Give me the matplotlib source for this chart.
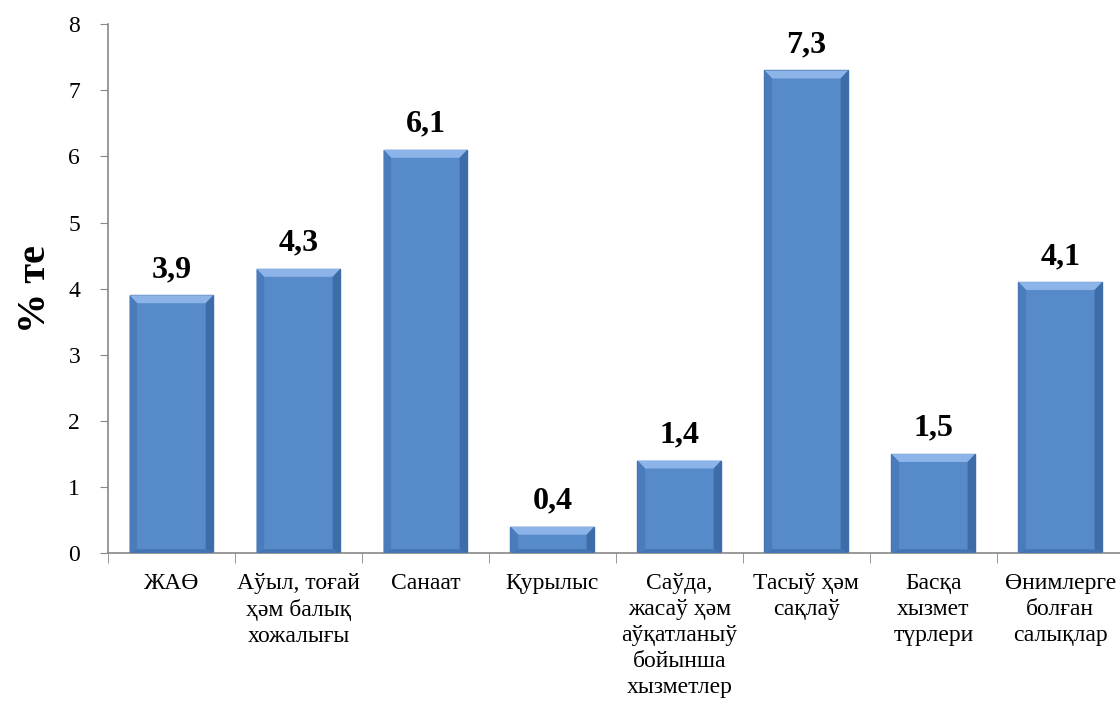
import numpy as np
import matplotlib.pyplot as plt
from matplotlib.patches import Polygon

categories = ['ЖАӨ', 'Аўыл, тоғай\nҳəм балық\nхожалығы', 'Санаат', 'Қурылыс',
              'Саўда,\nжасаў ҳəм\nаўқатланыў\nбойынша\nхызметлер',
              'Тасыў ҳəм\nсақлаў', 'Басқа\nхызмет\nтүрлери', 'Өнимлерге\nболған\nсалықлар']
values = [3.9, 4.3, 6.1, 0.4, 1.4, 7.3, 1.5, 4.1]
value_labels = ['3,9', '4,3', '6,1', '0,4', '1,4', '7,3', '1,5', '4,1']

plt.rcParams['font.family'] = ['Liberation Serif', 'DejaVu Serif']

fig = plt.figure(figsize=(11.2, 7.11), dpi=100)
ax = fig.add_axes([0.0964, 0.222, 0.907, 0.744])

x = np.arange(len(values))
width = 0.66
bars = ax.bar(x, values, width=width, color='#568AC9', edgecolor='#3F6EA8',
              linewidth=1.0, zorder=2)

# bevel look: lighter top strip, darker sides and bottom
for xi, v in zip(x, values):
    left, right = xi - width / 2, xi + width / 2
    b = min(0.12, v * 0.3)
    dx = 0.06
    ax.add_patch(Polygon([[left, v], [right, v], [right - dx, v - b], [left + dx, v - b]],
                         closed=True, facecolor='#8DB4E8', edgecolor='none', zorder=3))
    ax.add_patch(Polygon([[left, 0], [left + dx, b * 0.5], [left + dx, v - b], [left, v]],
                         closed=True, facecolor='#4A7CBC', edgecolor='none', zorder=3))
    ax.add_patch(Polygon([[right, 0], [right - dx, b * 0.5], [right - dx, v - b], [right, v]],
                         closed=True, facecolor='#3E6CA8', edgecolor='none', zorder=3))
    ax.add_patch(Polygon([[left, 0], [right, 0], [right - dx, b * 0.5], [left + dx, b * 0.5]],
                         closed=True, facecolor='#4475B3', edgecolor='none', zorder=3))
    ax.annotate(value_labels[xi], (xi, v), xytext=(0, 8), textcoords='offset points',
                ha='center', va='bottom', fontsize=23, fontweight='bold')

ax.set_xlim(-0.5, 7.5)
ax.set_ylim(0, 8)
ax.set_yticks(range(0, 9))
ax.tick_params(axis='y', labelsize=17, length=6, color='#888888', pad=14)

ax.set_xticks(x)
ax.set_xticklabels(categories, fontsize=17, linespacing=1.32, va='top')
ax.tick_params(axis='x', length=0, pad=14)
ax.set_xticks(np.arange(-0.5, 8, 1), minor=True)
ax.tick_params(axis='x', which='minor', length=7, color='#888888')

for s in ['top', 'right']:
    ax.spines[s].set_visible(False)
for s in ['left', 'bottom']:
    ax.spines[s].set_color('#888888')
    ax.spines[s].set_linewidth(1.2)

ax.set_ylabel('% те', fontsize=29, fontweight='bold', labelpad=10)

fig.savefig('out.png', dpi=100)
